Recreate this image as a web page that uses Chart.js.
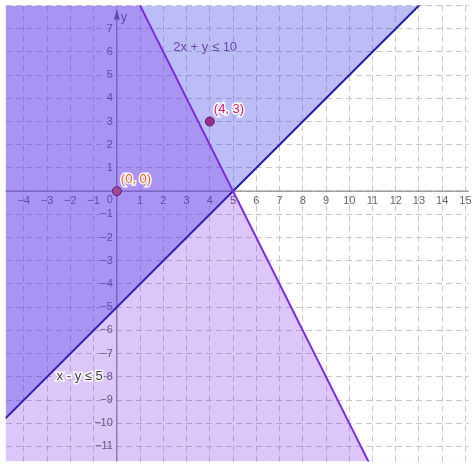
<!DOCTYPE html>
<html><head><meta charset="utf-8">
<script src="https://cdn.jsdelivr.net/npm/chart.js@4"></script>
<style>html,body{margin:0;padding:0;background:#fff}#w{width:474px;height:467px}</style>
</head><body><div id="w"><canvas id="c"></canvas></div>
<script>
const xRange = [-4.79, 15.13];
const yRange = [-11.65, 8.0];
const xTicks = [-4,-3,-2,-1,1,2,3,4,5,6,7,8,9,10,11,12,13,14,15];
const yTicks = [-11,-10,-9,-8,-7,-6,-5,-4,-3,-2,-1,1,2,3,4,5,6,7];
// boundary lines: y = m*x + b
const line1 = {m:-2, b:10, label:'2x + y ≤ 10', labelAt:[3.8,6.2]};
const line2 = {m:1, b:-5, label:'x - y ≤ 5', labelAt:[-1.6,-8.0]};
const points = [{x:0,y:0,label:'(0, 0)',color:'#e8651e'},{x:4,y:3,label:'(4, 3)',color:'#d41a5e'}];

const lineData = l => [xRange[0], xRange[1]].map(x => ({x, y: l.m*x + l.b}));

const axisPlugin = {
  id:'axes',
  beforeDatasetsDraw(chart){
    const {ctx, scales:{x, y}} = chart;
    const x0 = x.getPixelForValue(0), y0 = y.getPixelForValue(0);
    ctx.save();
    ctx.strokeStyle='#8a8a8a'; ctx.lineWidth=1.2;
    ctx.beginPath(); ctx.moveTo(x.left,y0); ctx.lineTo(x.right,y0);
    ctx.moveTo(x0,y.top+4); ctx.lineTo(x0,y.bottom); ctx.stroke();
    ctx.fillStyle='#666';
    ctx.beginPath(); ctx.moveTo(x0,y.top+4); ctx.lineTo(x0-3,y.top+14); ctx.lineTo(x0+3,y.top+14); ctx.closePath(); ctx.fill();
    ctx.font='11px "Liberation Sans", Arial, sans-serif';
    ctx.fillStyle='#666';
    ctx.textAlign='center'; ctx.textBaseline='top';
    xTicks.forEach(v=>ctx.fillText(String(v).replace('-','−'), x.getPixelForValue(v), y0+4));
    ctx.textAlign='right'; ctx.textBaseline='middle';
    yTicks.forEach(v=>ctx.fillText(String(v).replace('-','−'), x0-4, y.getPixelForValue(v)));
    ctx.fillText('0', x0-4, y0+9);
    ctx.font='13px "Liberation Sans", Arial, sans-serif';
    ctx.textAlign='left'; ctx.fillText('y', x0+4, y.top+12);
    ctx.restore();
  },
  afterDraw(chart){
    const {ctx, scales:{x, y}} = chart;
    ctx.save();
    ctx.font='13px "Liberation Sans", Arial, sans-serif';
    ctx.textBaseline='middle';
    ctx.textAlign='center';
    ctx.fillStyle='#6a4aa8';
    ctx.fillText(line1.label, x.getPixelForValue(line1.labelAt[0]), y.getPixelForValue(line1.labelAt[1]));
    ctx.lineWidth=3; ctx.strokeStyle='rgba(255,255,255,0.9)';
    const lx=x.getPixelForValue(line2.labelAt[0]), ly=y.getPixelForValue(line2.labelAt[1]);
    ctx.strokeText(line2.label, lx, ly); ctx.fillStyle='#444'; ctx.fillText(line2.label, lx, ly);
    ctx.textAlign='left';
    points.forEach(p=>{
      const px=x.getPixelForValue(p.x)+4, py=y.getPixelForValue(p.y)-12;
      ctx.strokeText(p.label, px, py); ctx.fillStyle=p.color; ctx.fillText(p.label, px, py);
    });
    ctx.restore();
  }
};

new Chart(document.getElementById('c'), {
  type:'line',
  data:{datasets:[
    {data:lineData(line1), borderColor:'#7a2ee0', borderWidth:2, backgroundColor:'rgba(120,30,235,0.25)', fill:'start', pointRadius:0},
    {data:lineData(line2), borderColor:'#1a1aa8', borderWidth:2, backgroundColor:'rgba(70,70,230,0.36)', fill:'end', pointRadius:0},
    {data:points.map(p=>({x:p.x,y:p.y})), showLine:false, fill:false, pointRadius:4.5, borderWidth:1,
     pointBackgroundColor:points.map(p=>p.color), pointBorderColor:'#5a1020'}
  ]},
  options:{
    responsive:true, maintainAspectRatio:false, animation:false,
    layout:{padding:{top:-3,left:-6,right:-6,bottom:-6}},
    plugins:{legend:{display:false}, tooltip:{enabled:false}},
    scales:{
      x:{type:'linear', min:xRange[0], max:xRange[1],
         ticks:{display:false, stepSize:1}, afterBuildTicks:s=>{s.ticks=[];for(let v=-4;v<=15;v++)s.ticks.push({value:v});},
         grid:{color:'#c8c8c8', lineWidth:1, drawTicks:false}, border:{display:false, dash:[6,4]}},
      y:{type:'linear', min:yRange[0], max:yRange[1],
         ticks:{display:false, stepSize:1}, afterBuildTicks:s=>{s.ticks=[];for(let v=-11;v<=8;v++)s.ticks.push({value:v});},
         grid:{color:'#c8c8c8', lineWidth:1, drawTicks:false}, border:{display:false, dash:[6,4]}}
    }
  },
  plugins:[axisPlugin]
});
</script></body></html>
